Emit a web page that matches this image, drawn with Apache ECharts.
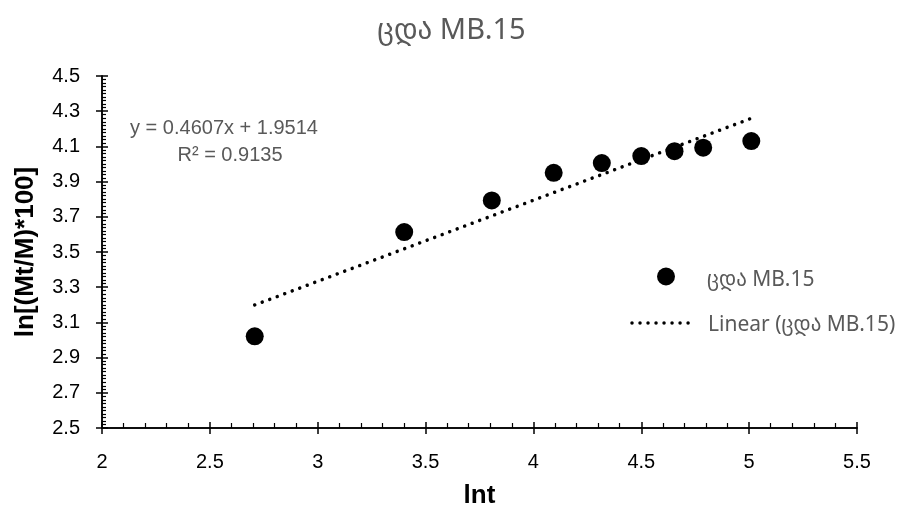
<!DOCTYPE html>
<html>
<head>
<meta charset="utf-8">
<script src="https://cdn.jsdelivr.net/npm/echarts@6/dist/echarts.min.js"></script>
<style>
  html, body { margin: 0; padding: 0; background: #fff; }
  #chart { width: 903px; height: 518px; }
</style>
</head>
<body>
<div id="chart"></div>
<script>
// Sorption kinetics: ln(t) vs ln[(Mt/M)*100]
const seriesName = 'ცდა MB.15';
const trendName = 'Linear (ცდა MB.15)';
const lnT = [2.708, 3.401, 3.807, 4.094, 4.317, 4.500, 4.654, 4.787, 5.010];
const lnM = [3.021, 3.613, 3.793, 3.950, 4.005, 4.045, 4.073, 4.093, 4.130];
// Least-squares fit as printed on the chart
const fitSlope = 0.4607;
const fitIntercept = 1.9514;
const fitR2 = 0.9135;

const xMin = 2, xMax = 5.5, xStep = 0.5;
const yMin = 2.5, yMax = 4.5, yStep = 0.2;

const FONT = '"Liberation Sans", "DejaVu Sans", sans-serif';
const GEO_FONT = '"Noto Sans", "DejaVu Sans", sans-serif';
const TEXT_GREY = '#595959';

const points = lnT.map((x, i) => [x, lnM[i]]);
const xLo = Math.min(...lnT), xHi = Math.max(...lnT);
const trend = [[xLo, fitSlope * xLo + fitIntercept], [xHi, fitSlope * xHi + fitIntercept]];

const chart = echarts.init(document.getElementById('chart'));

const axisLine = { lineStyle: { color: '#000', width: 1.5 } };
const majorTick = { color: '#000', width: 1.5 };

chart.setOption({
  animation: false,
  backgroundColor: '#fff',
  title: {
    text: seriesName,
    left: 'center',
    top: 11,
    textStyle: { fontFamily: GEO_FONT, fontSize: 29, fontWeight: 'normal', color: TEXT_GREY }
  },
  grid: { left: 102, right: 46, top: 76, bottom: 90, containLabel: false },
  xAxis: [
    {
      type: 'value', min: xMin, max: xMax, interval: xStep,
      name: 'lnt', nameLocation: 'middle', nameGap: 55,
      nameTextStyle: { fontFamily: FONT, fontSize: 26, fontWeight: 'bold', color: '#000' },
      axisLine: axisLine,
      axisTick: { show: true, inside: false, length: 6, lineStyle: majorTick },
      axisLabel: { fontFamily: FONT, fontSize: 20, color: '#000', margin: 24 },
      splitLine: { show: false }
    },
    {
      type: 'value', min: xMin, max: xMax, interval: xStep, position: 'bottom',
      axisLine: axisLine,
      axisTick: { show: true, inside: true, length: 6, lineStyle: majorTick },
      minorTick: { show: true, splitNumber: 5, length: 5, lineStyle: { color: '#000', width: 1.2 } },
      axisLabel: { show: false },
      splitLine: { show: false }
    }
  ],
  yAxis: [
    {
      type: 'value', min: yMin, max: yMax, interval: yStep,
      name: 'ln[(Mt/M)*100]', nameLocation: 'middle', nameGap: 63, nameRotate: 90,
      nameTextStyle: { fontFamily: FONT, fontSize: 26, fontWeight: 'bold', color: '#000' },
      axisLine: axisLine,
      axisTick: { show: true, inside: false, length: 6, lineStyle: majorTick },
      axisLabel: { fontFamily: FONT, fontSize: 20, color: '#000', margin: 22,
                   formatter: v => v.toFixed(1) },
      splitLine: { show: false }
    },
    {
      type: 'value', min: yMin, max: yMax, interval: yStep, position: 'left',
      axisLine: axisLine,
      axisTick: { show: true, inside: true, length: 6, lineStyle: majorTick },
      minorTick: { show: true, splitNumber: 10, length: 4, lineStyle: { color: '#000', width: 1.2 } },
      axisLabel: { show: false },
      splitLine: { show: false }
    }
  ],
  series: [
    {
      name: trendName,
      type: 'line',
      data: trend,
      symbol: 'none',
      silent: true,
      lineStyle: { color: '#000', width: 3.5, type: [0.01, 8], cap: 'round' }
    },
    {
      name: seriesName,
      type: 'scatter',
      data: points,
      symbol: 'circle',
      symbolSize: 18,
      itemStyle: { color: '#000', opacity: 1 },
      z: 3
    }
  ],
  graphic: [
    // trendline equation
    {
      type: 'text', x: 224, y: 128,
      style: { text: 'y = ' + fitSlope + 'x + ' + fitIntercept, fontFamily: FONT, fontSize: 20,
               fill: TEXT_GREY, align: 'center', verticalAlign: 'middle' }
    },
    {
      type: 'text', x: 230, y: 155,
      style: { text: 'R² = ' + fitR2, fontFamily: FONT, fontSize: 20,
               fill: TEXT_GREY, align: 'center', verticalAlign: 'middle' }
    },
    // legend: marker entry
    {
      type: 'circle', silent: true,
      shape: { cx: 666, cy: 276.5, r: 9 },
      style: { fill: '#000' }
    },
    {
      type: 'text', x: 707, y: 280,
      style: { text: seriesName, fontFamily: GEO_FONT, fontSize: 21,
               fill: TEXT_GREY, verticalAlign: 'middle' }
    },
    // legend: trend line entry
    {
      type: 'line', silent: true,
      shape: { x1: 632, y1: 323, x2: 695, y2: 323 },
      style: { stroke: '#000', lineWidth: 3.5, lineDash: [0.01, 8], lineCap: 'round' }
    },
    {
      type: 'text', x: 708, y: 325,
      style: { text: trendName, fontFamily: GEO_FONT, fontSize: 21,
               fill: TEXT_GREY, verticalAlign: 'middle' }
    }
  ]
});
</script>
</body>
</html>
